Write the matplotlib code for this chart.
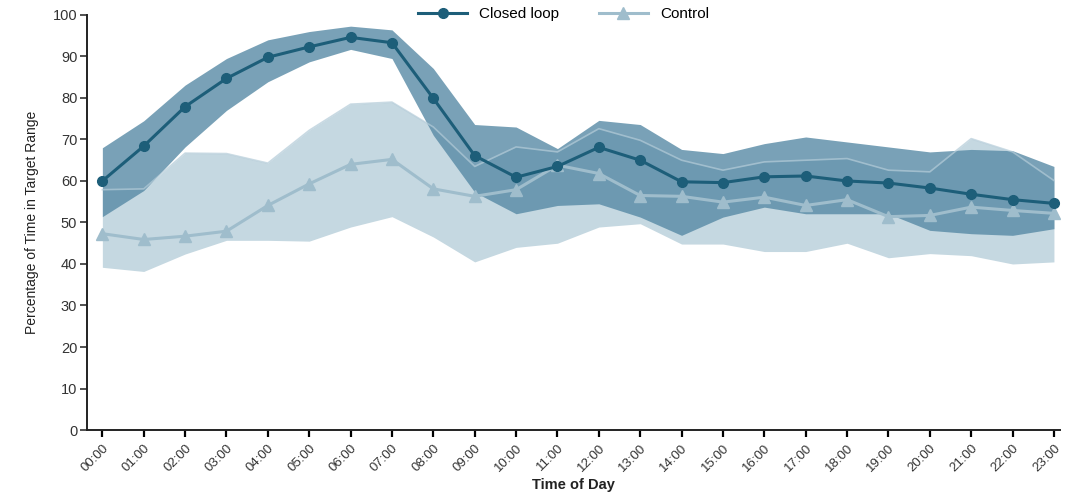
import numpy as np
import matplotlib
matplotlib.use("Agg")
import matplotlib.pyplot as plt

plt.rcParams['font.family'] = ['Liberation Sans', 'DejaVu Sans']

hours = ["00:00", "01:00", "02:00", "03:00", "04:00", "05:00", "06:00", "07:00",
         "08:00", "09:00", "10:00", "11:00", "12:00", "13:00", "14:00", "15:00",
         "16:00", "17:00", "18:00", "19:00", "20:00", "21:00", "22:00", "23:00"]

# closed loop: median and interquartile band
closed_mid = [60.0, 68.4, 77.9, 84.7, 89.8, 92.3, 94.6, 93.3, 79.9, 66.1, 60.9, 63.5,
              68.1, 65.0, 59.8, 59.6, 61.0, 61.2, 60.0, 59.5, 58.3, 56.8, 55.5, 54.6]
closed_hi = [68.0, 74.5, 83.1, 89.5, 94.0, 96.0, 97.3, 96.4, 87.1, 73.6, 73.0, 67.8,
             74.6, 73.6, 67.6, 66.6, 69.0, 70.6, 69.4, 68.2, 67.0, 67.6, 67.3, 63.5]
closed_lo = [51.4, 57.7, 68.2, 77.0, 83.9, 88.7, 91.7, 89.5, 71.0, 57.3, 52.1, 54.1,
             54.5, 51.3, 46.9, 51.3, 53.7, 52.1, 52.1, 52.1, 48.1, 47.3, 46.9, 48.5]

# control
control_mid = [47.3, 45.9, 46.7, 47.9, 54.1, 59.3, 64.0, 65.2, 58.1, 56.3, 57.9, 63.8,
               61.8, 56.5, 56.3, 54.9, 56.1, 54.1, 55.5, 51.4, 51.7, 53.7, 52.9, 52.2]
control_hi = [57.9, 58.1, 66.7, 66.6, 64.3, 72.2, 78.5, 79.0, 73.0, 63.5, 68.2, 67.0,
              72.6, 69.8, 65.0, 62.6, 64.6, 65.0, 65.4, 62.6, 62.2, 70.2, 67.0, 60.1]
control_lo = [39.2, 38.2, 42.4, 45.7, 45.7, 45.5, 48.9, 51.4, 46.5, 40.5, 44.0, 45.0,
              48.9, 49.7, 44.8, 44.8, 43.0, 43.0, 45.0, 41.5, 42.5, 42.0, 40.0, 40.5]

x = np.arange(len(hours))

fig = plt.figure(figsize=(10.84, 4.98), dpi=100)
ax = fig.add_axes([0.0803, 0.1365, 0.8977, 0.8335])

dark = '#1d5e79'
light = '#9fbdcc'

ax.fill_between(x, control_lo, control_hi, color='#c5d8e1', lw=0, zorder=1)
ax.fill_between(x, closed_lo, closed_hi, color='#578aa5', alpha=0.8, lw=0, zorder=2)
# light edge of the control band shows through the closed-loop band
ax.plot(x, control_hi, color='#b3cbd8', lw=1.2, alpha=0.7, zorder=3)

ax.plot(x, control_mid, color=light, lw=2.2, marker='^', ms=8, mec=light, mfc=light,
        label='Control', zorder=4)
ax.plot(x, closed_mid, color=dark, lw=2.2, marker='o', ms=7, mec=dark, mfc=dark,
        label='Closed loop', zorder=5)

ax.set_ylim(0, 100)
ax.set_xlim(-0.37, 23.15)
ax.set_yticks(np.arange(0, 101, 10))
ax.set_xticks(x)
ax.set_xticklabels(hours, rotation=45, ha='right', rotation_mode='anchor', fontsize=9.5,
                   color='#333333')
ax.tick_params(axis='y', labelsize=10.5, colors='#333333', length=5, width=1.2,
               direction='out', pad=2)
ax.tick_params(axis='x', length=5, width=1.6, direction='out')
for s in ['top', 'right']:
    ax.spines[s].set_visible(False)
for s in ['left', 'bottom']:
    ax.spines[s].set_linewidth(1.4)
    ax.spines[s].set_color('#222222')

ax.set_xlabel('Time of Day', fontsize=10.5, fontweight='bold', color='#222222', labelpad=3)
ax.set_ylabel('Percentage of Time in Target Range', fontsize=10, color='#222222', labelpad=10)

h, l = ax.get_legend_handles_labels()
leg = fig.legend(h[::-1], l[::-1], loc='center', bbox_to_anchor=(0.52, 0.972), ncol=2,
                 frameon=False, fontsize=11, handlelength=3.2, columnspacing=2.6)

fig.savefig('out.png', dpi=100)
